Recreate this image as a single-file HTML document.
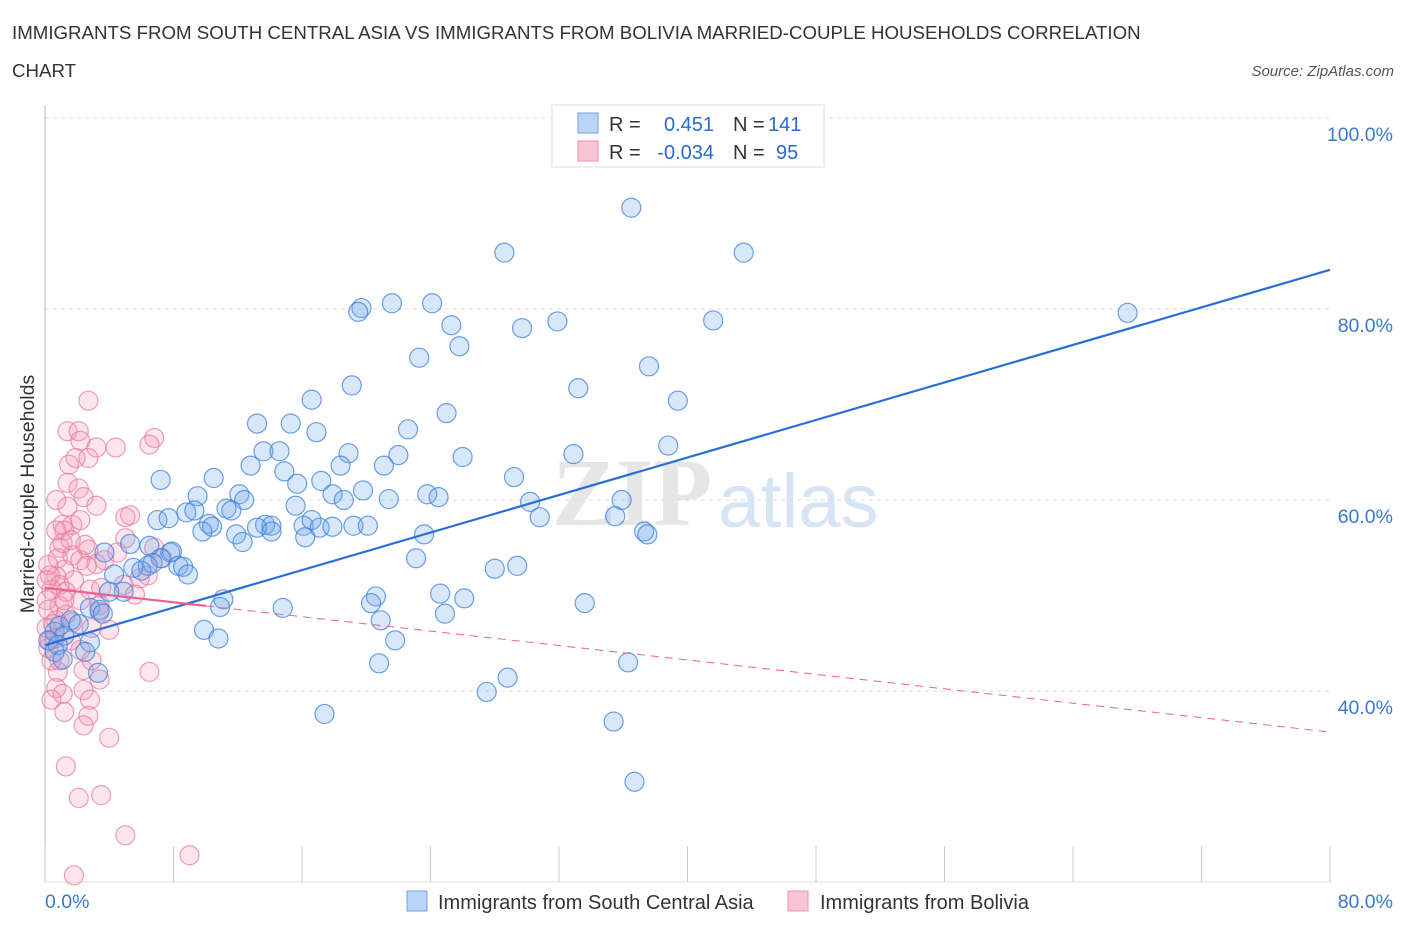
<!DOCTYPE html>
<html><head><meta charset="utf-8">
<style>
body{margin:0;background:#fff;font-family:"Liberation Sans",sans-serif;}
</style></head>
<body>
<svg id="chart" width="1406" height="930" xmlns="http://www.w3.org/2000/svg" style="display:block">
<text x="12" y="39" font-size="18.7" fill="#333">IMMIGRANTS FROM SOUTH CENTRAL ASIA VS IMMIGRANTS FROM BOLIVIA MARRIED-COUPLE HOUSEHOLDS CORRELATION</text>
<text x="12" y="77" font-size="18.7" fill="#333">CHART</text>
<text x="1394" y="76" font-size="15" fill="#555" font-style="italic" text-anchor="end">Source: ZipAtlas.com</text>
<g>
<text x="552" y="525" font-size="96" fill="#e6e6e6" font-family="Liberation Serif,serif" font-weight="bold">ZIP</text>
<text x="718" y="527" font-size="76" fill="#d6e4f4">atlas</text>
</g>
<g id="grid"></g>
<g id="marks"></g>
<g id="trends"></g>
<text transform="translate(34,494) rotate(-90)" font-size="19.5" fill="#333" text-anchor="middle">Married-couple Households</text>
<g>
<rect x="552" y="105" width="272" height="62" fill="#fff" stroke="#ddd"/>
<rect x="578" y="113" width="20" height="20" fill="#b9d4f5" stroke="#6ea2e3"/>
<rect x="578" y="141" width="20" height="20" fill="#f9c5d4" stroke="#ee93ad"/>
<text x="609" y="131" font-size="20" fill="#333">R =</text>
<text x="714" y="131" font-size="20" fill="#2a6ad0" text-anchor="end">0.451</text>
<text x="733" y="131" font-size="20" fill="#333">N =</text>
<text x="768" y="131" font-size="20" fill="#2a6ad0">141</text>
<text x="609" y="159" font-size="20" fill="#333">R =</text>
<text x="714" y="159" font-size="20" fill="#2a6ad0" text-anchor="end">-0.034</text>
<text x="733" y="159" font-size="20" fill="#333">N =</text>
<text x="776" y="159" font-size="20" fill="#2a6ad0">95</text>
</g>
<g>
<rect x="407" y="891" width="20" height="20" fill="#b9d4f5" stroke="#6ea2e3"/>
<text x="438" y="909" font-size="20" fill="#333">Immigrants from South Central Asia</text>
<rect x="788" y="891" width="20" height="20" fill="#f9c5d4" stroke="#ee93ad"/>
<text x="820" y="909" font-size="20" fill="#333">Immigrants from Bolivia</text>
</g>
</svg>
<script>
const xTicks=[0,8,16,24,32,40,48,56,64,72,80];
const yTicks=[40,60,80,100];
const yTickLabels=["40.0%","60.0%","80.0%","100.0%"];
const xEndLabels=["0.0%","80.0%"];
const blueX=[36.5,28.6,43.5,67.4,21.6,24.1,19.7,19.5,25.3,29.7,31.9,41.6,25.8,23.3,37.6,19.1,33.2,16.6,39.4,25.0,13.2,15.3,16.9,22.6,38.8,13.6,14.6,18.9,22.0,26.0,32.9,12.8,18.4,21.1,14.9,10.5,7.2,15.7,17.2,29.2,17.9,19.8,12.1,9.5,23.8,24.5,21.4,30.2,35.9,12.4,18.6,15.6,11.3,11.6,8.8,9.3,30.8,35.5,7.0,7.7,10.2,10.4,13.7,14.1,13.2,16.1,16.6,17.1,17.9,19.2,20.1,14.1,9.8,11.9,16.2,23.6,37.3,37.5,12.3,5.3,6.5,3.7,7.8,7.9,7.2,23.1,6.4,6.7,8.3,8.6,28.0,29.4,5.5,8.9,4.3,6.0,4.9,4.0,20.6,11.1,24.6,26.1,20.3,33.6,10.9,14.8,24.9,2.8,3.4,3.6,20.9,1.6,2.1,0.9,9.9,10.8,0.6,1.2,0.2,0.8,2.8,21.8,2.5,0.6,1.1,20.8,36.3,3.3,28.8,27.5,17.4,35.4,36.7];
const blueY=[90.6,85.9,85.9,79.6,80.6,80.6,80.1,79.7,78.3,78.0,78.7,78.8,76.1,74.9,74.0,72.0,71.7,70.5,70.4,69.1,68.0,68.0,67.1,67.4,65.7,65.1,65.1,64.9,64.7,64.5,64.8,63.6,63.6,63.6,63.0,62.3,62.1,61.7,62.0,62.4,60.6,61.0,60.6,60.4,60.6,60.3,60.1,59.8,60.0,60.0,60.0,59.4,59.1,58.9,58.7,58.9,58.2,58.3,57.9,58.1,57.5,57.2,57.4,57.3,57.1,57.3,57.9,57.1,57.2,57.3,57.3,56.7,56.7,56.4,56.1,56.4,56.7,56.4,55.6,55.4,55.2,54.5,54.5,54.6,53.9,53.9,53.1,53.4,53.1,53.0,52.8,53.1,52.9,52.2,52.2,52.6,50.4,50.4,49.9,49.6,50.2,49.7,49.2,49.2,48.8,48.7,48.1,48.7,48.5,48.1,47.4,47.4,47.0,46.8,46.4,45.5,46.2,45.8,45.3,44.8,45.1,45.3,44.1,44.1,43.3,42.9,43.0,41.9,41.4,39.9,37.6,36.8,30.5];
const pinkX=[2.7,1.4,2.1,2.2,3.2,4.4,1.9,2.7,6.8,6.5,1.5,1.4,2.1,2.4,3.2,1.4,1.7,1.1,0.7,1.2,2.7,0.9,0.8,1.7,2.2,3.2,2.6,1.2,0.7,1.8,0.9,0.4,1.3,2.8,3.5,4.9,2.2,0.9,0.2,1.3,0.7,1.7,0.1,0.6,2.9,3.4,0.2,0.9,0.8,2.4,6.5,0.7,1.1,2.4,2.8,1.2,2.7,2.4,4.0,1.3,2.1,3.5,5.0,9.0,1.8,0.7,2.5,5.3,5.0,1.1,0.2,0.3,3.7,4.5,6.4,6.8,7.3,5.0,5.9,5.6,3.4,2.9,0.4,0.4,0.1,0.1,0.3,1.6,2.2,1.2,4.0,3.4,1.6,2.2,0.5];
const pinkY=[70.4,67.2,67.2,66.2,65.5,65.5,64.4,64.4,66.5,65.8,63.7,61.8,61.2,60.3,59.4,59.3,57.4,57.4,56.8,56.8,54.8,55.0,53.9,54.2,53.7,53.3,53.1,52.7,52.0,51.6,51.1,50.6,50.4,50.6,50.8,51.1,49.5,48.9,48.5,48.0,47.4,47.2,46.6,45.5,46.6,48.3,44.5,43.2,42.0,42.2,42.0,40.3,39.7,40.1,39.1,37.8,37.4,36.4,35.1,32.1,28.8,29.1,24.9,22.8,20.7,60.0,55.3,58.4,56.0,55.5,53.2,52.1,53.7,54.5,52.1,55.0,53.9,58.2,51.8,50.1,49.0,43.2,43.2,39.1,49.5,51.6,45.3,45.3,44.3,49.5,46.4,41.2,55.8,57.9,47.0];
const blueTrend=[44.8,84.1];
const pinkTrend=[50.8,35.7];
const pinkSolidEnd=10;

const L=45,R=1330,T=118,B=882;
const xs=v=>L+(v/80)*(R-L);
const ys=v=>B-((v-20)/80)*(B-T);
const NS="http://www.w3.org/2000/svg";
function mk(tag,attrs,parent){const e=document.createElementNS(NS,tag);for(const k in attrs)e.setAttribute(k,attrs[k]);parent.appendChild(e);return e;}
const grid=document.getElementById('grid'),marks=document.getElementById('marks'),trends=document.getElementById('trends');
yTicks.forEach((t,i)=>{
 const g=mk('line',{x1:L,x2:R,y1:ys(t),y2:ys(t),stroke:'#ddd','stroke-dasharray':'4,4'},grid);
 
 
 const tx=mk('text',{x:1393,y:ys(t)+23,'font-size':19.5,fill:'#3a78d6','text-anchor':'end'},grid);
 tx.textContent=yTickLabels[i];
 
 
});
const ax=mk('line',{x1:L,x2:L,y1:105,y2:B,stroke:'#bbb'},grid);


const bx=mk('line',{x1:L,x2:R,y1:B,y2:B,stroke:'#ddd'},grid);


xTicks.forEach(t=>{
 const l=mk('line',{x1:xs(t),x2:xs(t),y1:B-36,y2:B,stroke:'#ccc'},grid);
 
 
});
[[0,'start',45],[80,'end',1393]].forEach((d,i)=>{
 const tx=mk('text',{x:d[2],y:908,'font-size':19.5,fill:'#3a78d6','text-anchor':d[1]},grid);
 tx.textContent=xEndLabels[i];
 
 
});
pinkX.forEach((v,i)=>{
 const c=mk('circle',{cx:xs(v),cy:ys(pinkY[i]),r:9.5,fill:'rgba(242,150,178,0.25)',stroke:'rgba(232,120,155,0.7)','stroke-width':1.2},marks);
 
 
});
blueX.forEach((v,i)=>{
 const c=mk('circle',{cx:xs(v),cy:ys(blueY[i]),r:9.5,fill:'rgba(110,165,235,0.27)',stroke:'rgba(60,130,220,0.75)','stroke-width':1.2},marks);
 
 
});
const bt=mk('line',{x1:xs(0),y1:ys(blueTrend[0]),x2:xs(80),y2:ys(blueTrend[1]),stroke:'#2a6fd6','stroke-width':2.2},trends);


const pAt=x=>pinkTrend[0]+(pinkTrend[1]-pinkTrend[0])*x/80;
const ps=mk('line',{x1:xs(0),y1:ys(pAt(0)),x2:xs(pinkSolidEnd),y2:ys(pAt(pinkSolidEnd)),stroke:'#e8628d','stroke-width':2.2},trends);


const pd=mk('line',{x1:xs(pinkSolidEnd),y1:ys(pAt(pinkSolidEnd)),x2:xs(80),y2:ys(pAt(80)),stroke:'#e8628d','stroke-width':1,'stroke-dasharray':'8,6'},trends);


</script>
</body></html>
